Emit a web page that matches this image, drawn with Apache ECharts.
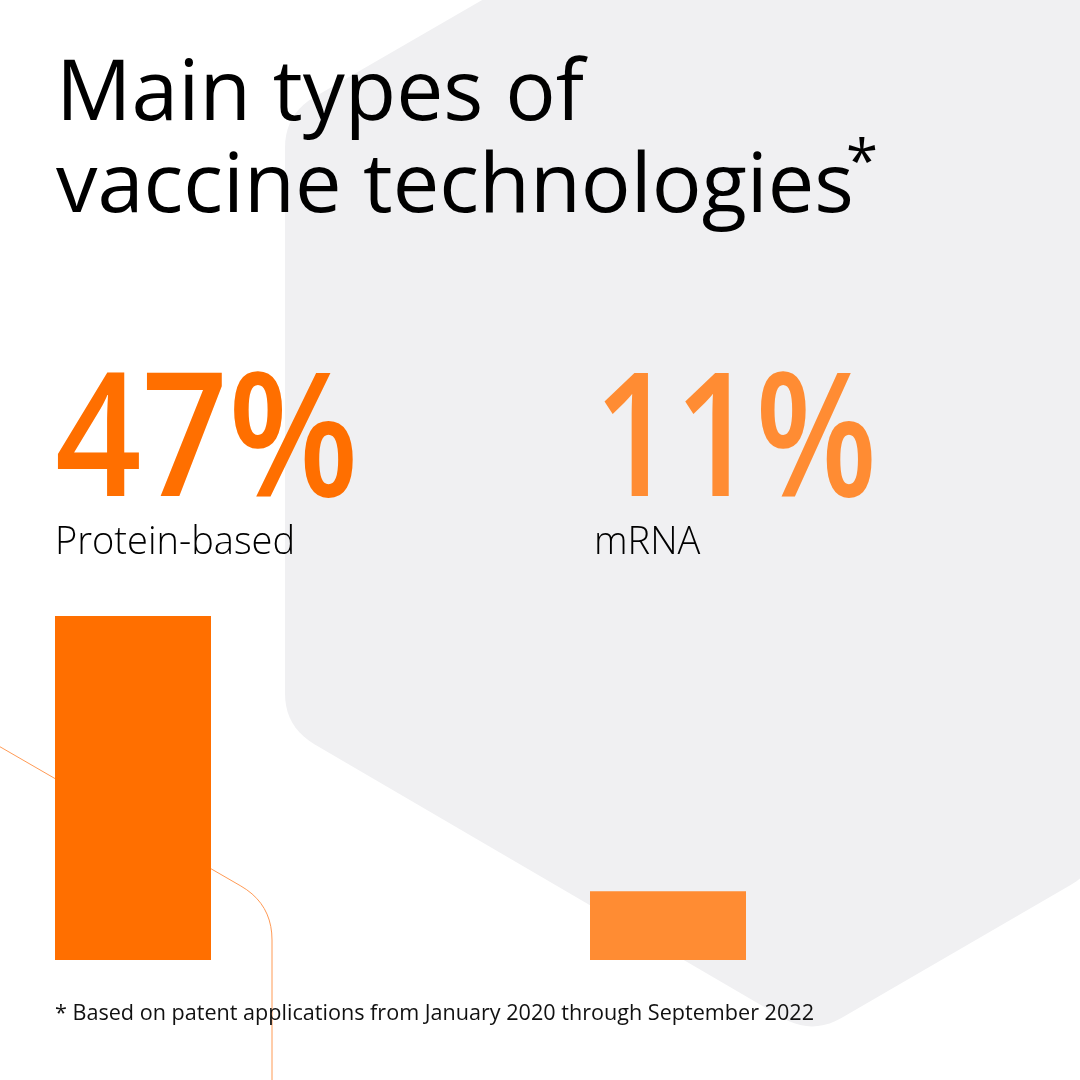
<!DOCTYPE html>
<html>
<head>
<meta charset="utf-8">
<script src="https://cdn.jsdelivr.net/npm/echarts@6/dist/echarts.min.js"></script>
<style>
  html, body { margin: 0; padding: 0; background: #fff; }
  #main { width: 1080px; height: 1080px; }
</style>
</head>
<body>
<div id="main"></div>
<script>
// data
var categories = ['Protein-based', 'mRNA'];
var shares = [47, 11];
var barColors = ['#ff6f00', '#ff8c33'];

var chart = echarts.init(document.getElementById('main'));

var font = '"Open Sans", "Noto Sans", sans-serif';

// rounds the inner corners of a point list with small quadratic curves
function rounded(pts, r, skipEnds) {
	var out = [];
	for (var i = 0; i < pts.length; i++) {
		var p = pts[i];
		if (skipEnds && (i === 0 || i === pts.length - 1)) { out.push(p); continue; }
		var a = pts[(i - 1 + pts.length) % pts.length];
		var b = pts[(i + 1) % pts.length];
		var da = Math.hypot(a[0] - p[0], a[1] - p[1]);
		var db = Math.hypot(b[0] - p[0], b[1] - p[1]);
		var s = [p[0] + (a[0] - p[0]) * r / da, p[1] + (a[1] - p[1]) * r / da];
		var e = [p[0] + (b[0] - p[0]) * r / db, p[1] + (b[1] - p[1]) * r / db];
		for (var t = 0; t <= 1.0001; t += 0.1) {
			var u = 1 - t;
			out.push([u * u * s[0] + 2 * u * t * p[0] + t * t * e[0],
				u * u * s[1] + 2 * u * t * p[1] + t * t * e[1]]);
		}
	}
	return out;
}

// grey hexagon in the back
var hexCorners = [[560, -45], [285, 114], [285, 727], [812, 1035], [1100, 868], [1100, -50]];
// thin orange outline behind the first bar
var lineCorners = [[-10, 741], [272, 904], [272, 1090]];

var graphics = [
	{ type: 'polygon', z: 0, shape: { points: rounded(hexCorners, 34, false) }, style: { fill: '#f0f0f2' } },
	{ type: 'polyline', z: 1, shape: { points: rounded(lineCorners, 36, true) }, style: { stroke: '#ff9a55', lineWidth: 1 } },
	{ type: 'text', z: 3, x: 56, y: 54, style: { text: 'Main types of', font: '400 84px ' + font, fill: '#000', verticalAlign: 'top' } },
	{ type: 'text', z: 3, x: 56, y: 147, style: { text: 'vaccine technologies', font: '400 83px ' + font, fill: '#000', verticalAlign: 'top' } },
	{ type: 'text', z: 3, x: 846, y: 136, style: { text: '*', font: '400 58px ' + font, fill: '#000', verticalAlign: 'top' } },
	{ type: 'text', z: 3, x: 55, y: 1003, style: { text: '* Based on patent applications from January 2020 through September 2022', font: '400 21.6px ' + font, fill: '#111', verticalAlign: 'top' } }
];

var labelX = [55, 594];
var pctScale = [0.88, 0.82];
for (var i = 0; i < categories.length; i++) {
	graphics.push({
		type: 'text', z: 3, x: labelX[i], y: 361, scaleX: pctScale[i],
		style: { text: shares[i] + '%', font: '600 172px ' + font, fill: barColors[i], verticalAlign: 'top' }
	});
	graphics.push({
		type: 'text', z: 3, x: labelX[i], y: 524,
		style: { text: categories[i], font: '300 38px ' + font, fill: '#000', verticalAlign: 'top' }
	});
}

var option = {
	backgroundColor: '#ffffff',
	animation: false,
	graphic: graphics,
	// wide grid so the two category centres sit at x=133 and x=668;
	// the hidden value axis starts at 2, bars are clipped at the grid floor
	grid: {
		left: -134.5,
		right: 144.5,
		top: 616,
		bottom: 120,
		outerBoundsMode: 'none'
	},
	xAxis: {
		type: 'category',
		data: categories,
		show: false
	},
	yAxis: {
		type: 'value',
		min: 2,
		max: 47,
		show: false
	},
	series: [
		{
			type: 'bar',
			clip: true,
			barWidth: 156,
			z: 2,
			data: shares.map(function (v, i) {
				return { value: v, itemStyle: { color: barColors[i] } };
			})
		}
	]
};

chart.setOption(option);
</script>
</body>
</html>
